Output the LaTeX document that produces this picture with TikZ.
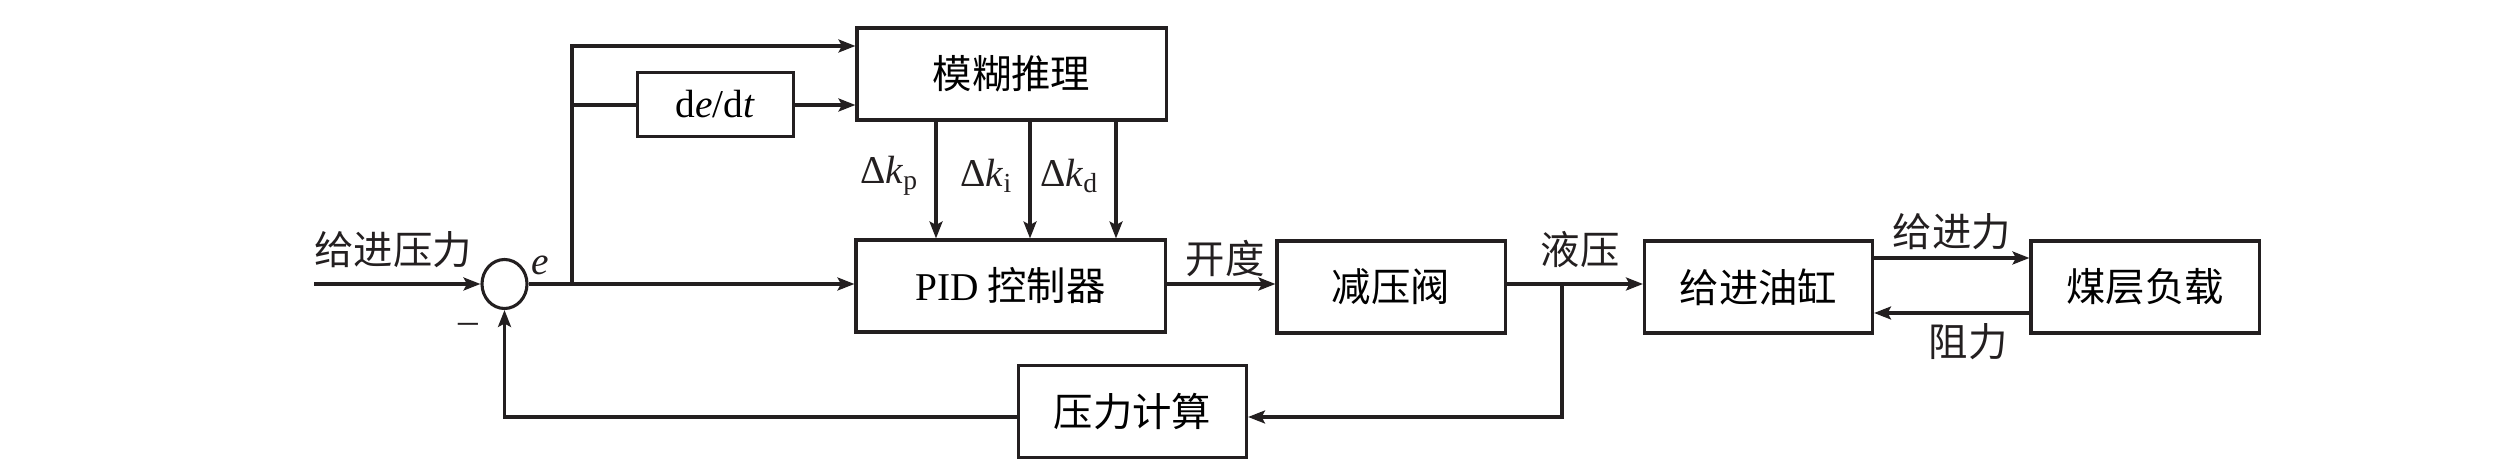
\documentclass[tikz,border=0pt]{standalone}
\usepackage{fontspec}
\setmainfont{Liberation Serif}
\newfontfamily\cjk{Noto Sans CJK SC}
\usetikzlibrary{arrows.meta,calc,shapes.geometric}

\begin{document}
\begin{tikzpicture}[x=0.0125cm,y=-0.0125cm,
  blk/.style={draw=ink,line width=1.1pt,minimum width=2.85cm,minimum height=1.15cm,inner sep=0,font=\cjk\fontsize{14}{16}\selectfont},
  lbl/.style={text=ink,inner sep=1pt,font=\cjk\fontsize{14}{16}\selectfont},
  sym/.style={text=ink,inner sep=1pt,font=\fontsize{14}{16}\selectfont},
  sig/.style={ink,line width=1.1pt,>={Stealth[length=6pt,width=4.6pt,inset=1.2pt]},->}]
% ------------------------------------------------ colors
\definecolor{ink}{RGB}{35,31,32} %#231F20

\useasboundingbox (0,0) rectangle (2520,464);

% ------------------------------------------------ blocks
\node[blk,minimum width=3.8625cm] (fuzzy) at (1011.5,74) {模糊推理};
\node[blk,minimum width=1.94cm,minimum height=0.81cm,font=\fontsize{14}{16}\selectfont] (dedt) at (715.5,104.5) {d\textit{e}/d\textit{t}};
\node[blk,minimum width=3.8625cm] (pid) at (1010.5,286) {{\rmfamily PID} 控制器};
\node[blk] (valve) at (1391,287) {减压阀};
\node[blk] (cyl) at (1758.5,287) {给进油缸};
\node[blk] (load) at (2145,287) {煤层负载};
\node[blk] (calc) at (1132.5,411.5) {压力计算};
\node[draw=ink,line width=1.1pt,ellipse,minimum width=0.5625cm,minimum height=0.6125cm,inner sep=0] (sum) at (504.5,284) {};

% ------------------------------------------------ input and error
\coordinate (in) at (314,284);
\draw[sig] (in) -- (sum.west);
\node[lbl] (inlbl) at (393,249.5) {给进压力};
\node[sym] (elbl) at (540,265) {\textit{e}};
\node[sym] (minus) at (468,328) {--};
\draw[sig] (sum.east) -- (sum.east -| pid.west);

% ------------------------------------------------ fuzzy branch
\coordinate (br) at (572,284);
\coordinate (t1) at (572,46);
\coordinate (t2) at (572,105);
\draw[sig] (br) -- (t1) -- (t1 -| fuzzy.west);
\draw[ink,line width=1.1pt] (t2) -- (dedt.west |- t2);
\draw[sig] (dedt.east |- t2) -- (t2 -| fuzzy.west);

\foreach \x/\s in {936/p,1030/i,1116/d}{
  \coordinate (k\s) at (\x,0);
  \draw[sig] (fuzzy.south -| k\s) -- (pid.north -| k\s);
  \node[sym,anchor=east] (lk\s) at (\x-14,176) {Δ\textit{k}\textsubscript{\s}};
}

% ------------------------------------------------ forward path
\draw[sig] (pid.east |- sum) -- (valve.west |- sum);
\node[lbl] (open) at (1225,259) {开度};
\draw[sig] (valve.east |- sum) -- (cyl.west |- sum);
\node[lbl] (hyd) at (1580,249.5) {液压};
\coordinate (f1) at (0,258);
\coordinate (f2) at (0,313);
\draw[sig] (cyl.east |- f1) -- (load.west |- f1);
\node[lbl] (feed) at (1952,232) {给进力};
\draw[sig] (load.west |- f2) -- (cyl.east |- f2);
\node[lbl] (resist) at (1968,341.5) {阻力};

% ------------------------------------------------ feedback
\coordinate (br2) at (1562,284);
\coordinate (b1) at (1562,417);
\draw[sig] (br2) -- (b1) -- (b1 -| calc.east);
\draw[sig] (b1 -| calc.west) -| (sum.south);

\end{tikzpicture}
\end{document}
